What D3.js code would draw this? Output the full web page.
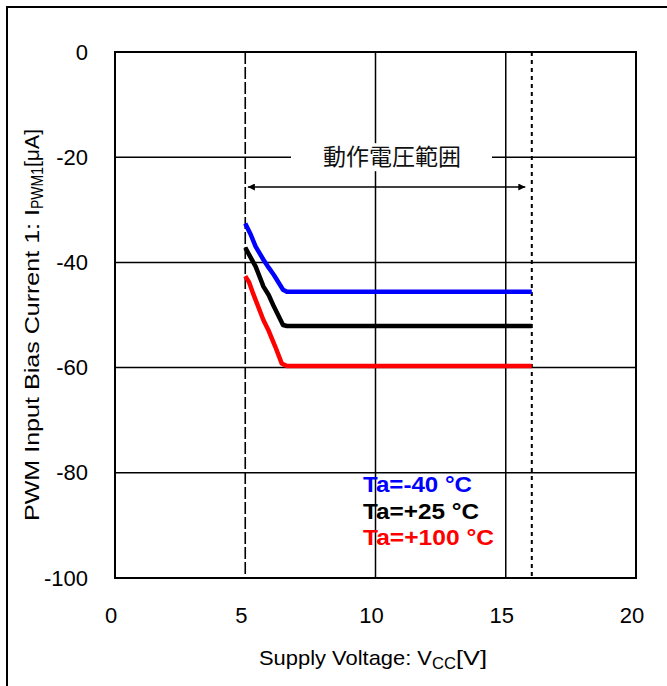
<!DOCTYPE html>
<html>
<head>
<meta charset="utf-8">
<script src="https://cdn.jsdelivr.net/npm/d3@7"></script>
<style>
  body { margin: 0; background: #fff; }
  text { font-family: "Liberation Sans", Arial, sans-serif; }
</style>
</head>
<body>
<div id="chart"></div>
<script>
    // curves: [Vcc, I]
    var volts = [5.0, 5.2, 5.4, 5.7, 5.9, 6.1, 6.45, 6.6, 16];
    var iMinus40 = [-32.6, -34.6, -37.0, -39.5, -41.0, -42.4, -45.2, -45.6, -45.6];
    var iPlus25 = [-37.2, -39.0, -40.8, -44.6, -46.2, -48.4, -51.9, -52.1, -52.1];
    var voltsRed = [5.0, 5.15, 5.3, 5.7, 5.9, 6.15, 6.4, 6.6, 16];
    var iPlus100 = [-42.6, -43.8, -45.9, -51.0, -53.0, -56.0, -59.2, -59.7, -59.7];

    var xTicks = [0, 5, 10, 15, 20];
    var yTicks = [0, -20, -40, -60, -80, -100];
    var legendLabels = ["Ta=-40 °C", "Ta=+25 °C", "Ta=+100 °C"];
    var legendWidths = [109, 116, 131];
    var colors = ["#0000ff", "#000000", "#ff0000"];

    var W = 667, H = 686;
    var pL = 115, pT = 52, pR = 636, pB = 578;

    var svg = d3.select("#chart").append("svg")
      .attr("width", W)
      .attr("height", H);

    // outer frame (runs off the right and bottom edges)
    svg.append("rect")
      .attr("x", 7).attr("y", 7)
      .attr("width", W + 10).attr("height", H + 10)
      .attr("fill", "none")
      .attr("stroke", "#000")
      .attr("stroke-width", 2);

    var x = d3.scaleLinear().domain([0, 20]).range([pL, pR]);
    var y = d3.scaleLinear().domain([0, -100]).range([pT, pB]);

    // grid
    svg.append("g").selectAll("line")
      .data(yTicks)
      .enter().append("line")
      .attr("x1", pL).attr("x2", pR)
      .attr("y1", function (d) { return y(d); })
      .attr("y2", function (d) { return y(d); })
      .attr("stroke", "#000")
      .attr("stroke-width", 1.5);

    svg.append("g").selectAll("line")
      .data([10, 15])
      .enter().append("line")
      .attr("y1", pT).attr("y2", pB)
      .attr("x1", function (d) { return x(d); })
      .attr("x2", function (d) { return x(d); })
      .attr("stroke", "#000")
      .attr("stroke-width", 1.5);

    // operating range markers
    svg.append("line")
      .attr("x1", x(5)).attr("x2", x(5))
      .attr("y1", pT).attr("y2", pB)
      .attr("stroke", "#000")
      .attr("stroke-width", 1.6)
      .attr("stroke-dasharray", "12,3");

    svg.append("line")
      .attr("x1", x(16)).attr("x2", x(16))
      .attr("y1", pT).attr("y2", pB)
      .attr("stroke", "#000")
      .attr("stroke-width", 2)
      .attr("stroke-dasharray", "4,4");

    // plot border
    svg.append("rect")
      .attr("x", pL).attr("y", pT)
      .attr("width", pR - pL).attr("height", pB - pT)
      .attr("fill", "none")
      .attr("stroke", "#000")
      .attr("stroke-width", 2);

    // range label with white background over the gridline
    svg.append("rect")
      .attr("x", 291).attr("y", y(-20) - 14)
      .attr("width", 201).attr("height", 28)
      .attr("fill", "#fff");
    svg.append("text")
      .attr("x", 392).attr("y", y(-20) + 8)
      .attr("text-anchor", "middle")
      .style("font-family", "'Noto Sans CJK JP', sans-serif")
      .style("font-size", "23px")
      .attr("fill", "#111")
      .text("動作電圧範囲");

    // double arrow
    var defs = svg.append("defs");
    defs.append("marker")
      .attr("id", "ah")
      .attr("viewBox", "0 0 10 10")
      .attr("refX", 10).attr("refY", 5)
      .attr("markerWidth", 15).attr("markerHeight", 7)
      .attr("markerUnits", "userSpaceOnUse")
      .attr("orient", "auto-start-reverse")
      .append("path")
      .attr("d", "M0,0L10,5L0,10Z")
      .attr("fill", "#000");
    svg.append("line")
      .attr("x1", x(5.1)).attr("x2", x(15.75))
      .attr("y1", 187).attr("y2", 187)
      .attr("stroke", "#000")
      .attr("stroke-width", 1.5)
      .attr("marker-start", "url(#ah)")
      .attr("marker-end", "url(#ah)");

    // curves
    var line = d3.line()
      .x(function (d) { return x(d[0]); })
      .y(function (d) { return y(d[1]); });

    var series = [
      d3.zip(volts, iMinus40),
      d3.zip(volts, iPlus25),
      d3.zip(voltsRed, iPlus100)
    ];
    series.forEach(function (s, i) {
      svg.append("path")
        .datum(s)
        .attr("d", line)
        .attr("fill", "none")
        .attr("stroke", colors[i])
        .attr("stroke-width", 4.5)
        .attr("stroke-linejoin", "round");
    });

    // legend
    svg.append("g").selectAll("text")
      .data(legendLabels)
      .enter().append("text")
      .attr("x", 363)
      .attr("y", function (d, i) { return 492 + i * 26.5; })
      .attr("fill", function (d, i) { return colors[i]; })
      .attr("textLength", function (d, i) { return legendWidths[i]; })
      .attr("lengthAdjust", "spacingAndGlyphs")
      .style("font-size", "22px")
      .style("font-weight", "bold")
      .text(function (d) { return d; });

    // tick labels
    svg.append("g").selectAll("text")
      .data(yTicks)
      .enter().append("text")
      .attr("x", 88)
      .attr("y", function (d) { return y(d) + 7.5; })
      .attr("text-anchor", "end")
      .style("font-size", "22px")
      .attr("fill", "#000")
      .text(function (d) { return d; });

    svg.append("g").selectAll("text")
      .data(xTicks)
      .enter().append("text")
      .attr("x", function (d) { return x(d) - 4; })
      .attr("y", 623)
      .attr("text-anchor", "middle")
      .style("font-size", "22px")
      .attr("fill", "#000")
      .text(function (d) { return d; });

    // axis titles
    var xt = svg.append("text")
      .attr("x", 259).attr("y", 665)
      .style("font-size", "21px")
      .attr("fill", "#000");
    xt.append("tspan").attr("textLength", 173).attr("lengthAdjust", "spacingAndGlyphs")
      .text("Supply Voltage: V");
    xt.append("tspan").attr("dy", 4).style("font-size", "16px")
      .attr("textLength", 24).attr("lengthAdjust", "spacingAndGlyphs").text("CC");
    xt.append("tspan").attr("dy", -4)
      .attr("textLength", 31).attr("lengthAdjust", "spacingAndGlyphs").text("[V]");

    var yt = svg.append("text")
      .attr("transform", "translate(39,521) rotate(-90)")
      .style("font-size", "21px")
      .attr("fill", "#000");
    yt.append("tspan").attr("textLength", 312).attr("lengthAdjust", "spacingAndGlyphs")
      .text("PWM Input Bias Current 1: I");
    yt.append("tspan").attr("dy", 4).style("font-size", "16px")
      .attr("textLength", 42).attr("lengthAdjust", "spacingAndGlyphs").text("PWM1");
    yt.append("tspan").attr("dy", -4)
      .attr("textLength", 38).attr("lengthAdjust", "spacingAndGlyphs").text("[μA]");
</script>
</body>
</html>
